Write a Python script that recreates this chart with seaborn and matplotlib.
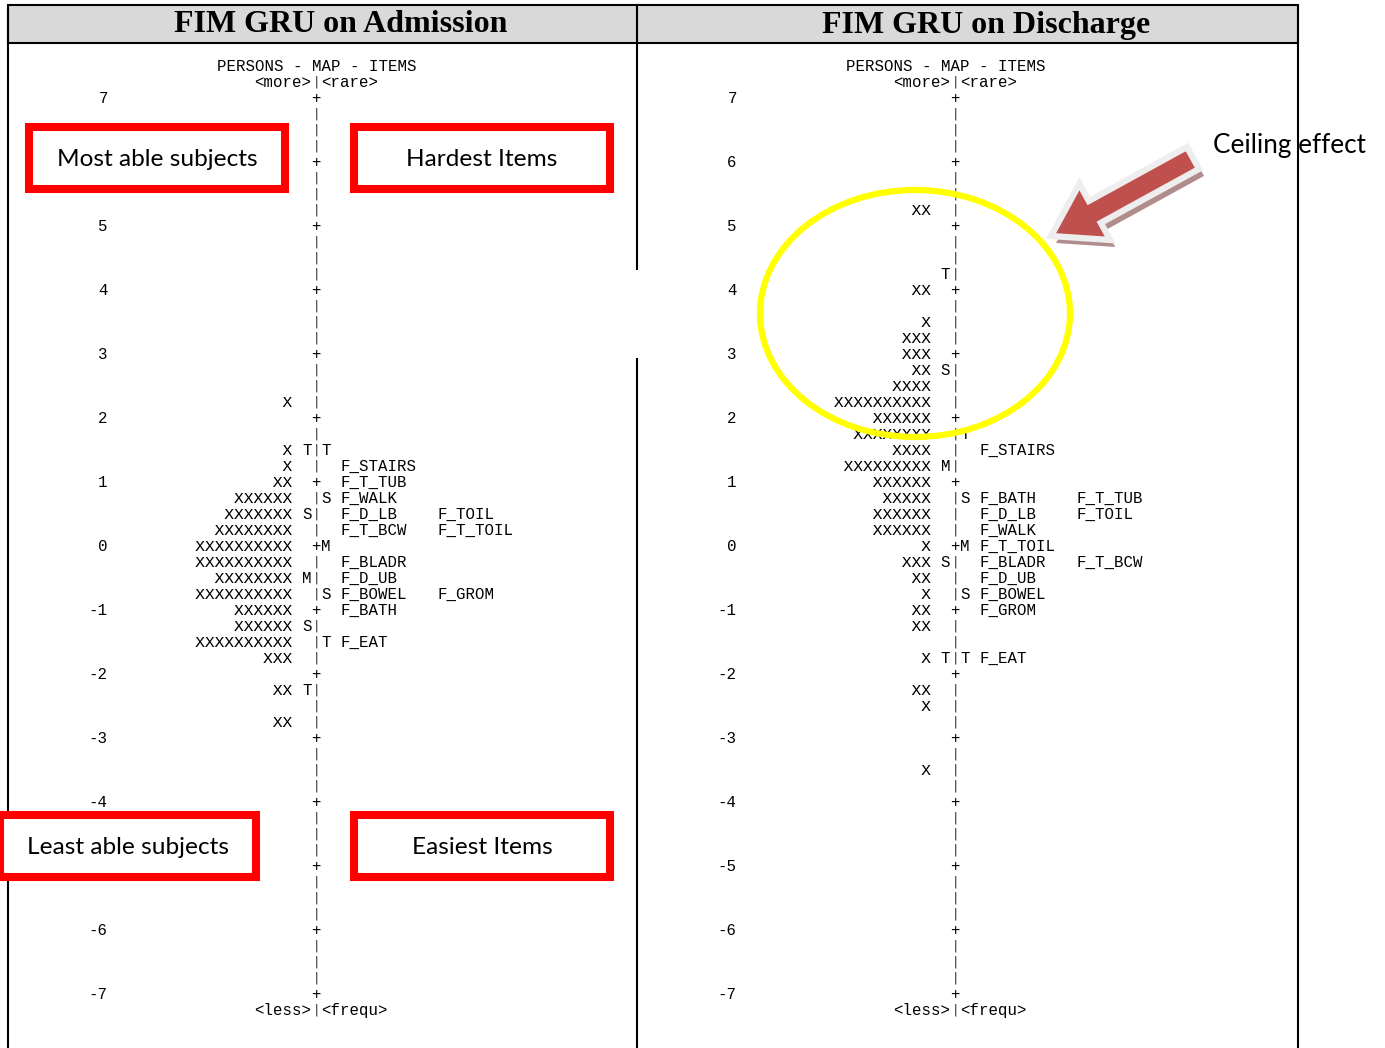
import numpy as np
import pandas as pd
import matplotlib
matplotlib.use("Agg")
import matplotlib.pyplot as plt
import matplotlib.patches as mpatches
from matplotlib.textpath import TextPath
from matplotlib.font_manager import FontProperties
from matplotlib.path import Path
import seaborn as sns

# ------------------------------------------------------------------ data
panel_titles = ["FIM GRU on Admission", "FIM GRU on Discharge"]
scale_ticks = [7, 6, 5, 4, 3, 2, 1, 0, -1, -2, -3, -4, -5, -6, -7]
# scale labels hidden behind the annotation boxes in the admission panel
adm_hidden_ticks = [6, -5]
dis_hidden_ticks = []

# Admission
adm_person_measure = [2.25, 1.5, 1.25, 1.0, 0.75, 0.5, 0.25, 0.0, -0.25, -0.5,
                      -0.75, -1.0, -1.25, -1.5, -1.75, -2.25, -2.75]
adm_person_count = [1, 1, 1, 2, 6, 7, 8, 10, 10, 8, 10, 6, 6, 10, 3, 2, 2]
adm_item_names = ["F_STAIRS", "F_T_TUB", "F_WALK", "F_D_LB", "F_TOIL", "F_T_BCW",
                  "F_T_TOIL", "F_BLADR", "F_D_UB", "F_BOWEL", "F_GROM", "F_BATH", "F_EAT"]
adm_item_measure = [1.25, 1.0, 0.75, 0.5, 0.5, 0.25, 0.25, -0.25, -0.5, -0.75, -0.75, -1.0, -1.5]
adm_person_marks = ["T", "S", "M", "S", "T"]
adm_person_mark_measure = [1.5, 0.5, -0.5, -1.25, -2.25]
adm_item_marks = ["T", "S", "M", "S", "T"]
adm_item_mark_measure = [1.5, 0.75, 0.0, -0.75, -1.5]

# Discharge
dis_person_measure = [5.25, 4.0, 3.5, 3.25, 3.0, 2.75, 2.5, 2.25, 2.0, 1.75, 1.5, 1.25, 1.0,
                      0.75, 0.5, 0.25, 0.0, -0.25, -0.5, -0.75, -1.0, -1.25, -1.75, -2.25,
                      -2.5, -3.5]
dis_person_count = [2, 2, 1, 3, 3, 2, 4, 10, 6, 8, 4, 9, 6, 5, 6, 6, 1, 3, 2, 1, 2, 2, 1, 2, 1, 1]
dis_item_names = ["F_STAIRS", "F_BATH", "F_T_TUB", "F_D_LB", "F_TOIL", "F_WALK", "F_T_TOIL",
                  "F_BLADR", "F_T_BCW", "F_D_UB", "F_BOWEL", "F_GROM", "F_EAT"]
dis_item_measure = [1.5, 0.75, 0.75, 0.5, 0.5, 0.25, 0.0, -0.25, -0.25, -0.5, -0.75, -1.0, -1.75]
dis_person_marks = ["T", "S", "M", "S", "T"]
dis_person_mark_measure = [4.25, 2.75, 1.25, -0.25, -1.75]
dis_item_marks = ["T", "S", "M", "S", "T"]
dis_item_mark_measure = [1.75, 0.75, 0.0, -0.75, -1.75]

# annotation texts
box_texts = ["Most able subjects", "Hardest Items", "Least able subjects", "Easiest Items"]
callout_text = "Ceiling effect"

# ------------------------------------------------------------------ style
sns.set_theme(style="white")
W, H, DPI = 1385, 1048, 100
fig = plt.figure(figsize=(W / DPI, H / DPI), dpi=DPI)
fig.patch.set_facecolor("white")

MONO_SIZE = 11.3
BAR_SIZE = 9.0
mono = FontProperties(family="Liberation Mono", size=MONO_SIZE)
mono_bar = FontProperties(family="DejaVu Sans Mono", size=BAR_SIZE)
CW = 9.7          # px per character cell
PX_PER_UNIT = 64  # px per logit
em_px = MONO_SIZE * DPI / 72.0
DY = (0.66 * em_px / 2.0) / PX_PER_UNIT
bar_em_px = BAR_SIZE * DPI / 72.0
DY_BAR = (0.262 * bar_em_px) / PX_PER_UNIT

# X glyph as marker path
tp = TextPath((0, 0), "X", size=1, prop=FontProperties(family="DejaVu Sans Mono"))
v = tp.vertices.copy()
mn, mx = v.min(axis=0), v.max(axis=0)
v = (v - (mn + mx) / 2.0) * np.array([1.15, 1.0])
x_marker = Path(v, tp.codes)


def put(ax, x, y, s, ha):
    ax.text(x, y - DY, s, ha=ha, va="baseline", fontproperties=mono, color="black")


def put_bar(ax, x, y):
    ax.text(x, y - DY_BAR, "|", ha="center", va="baseline", fontproperties=mono_bar,
            color="#222222")


def draw_panel(left_px, right_px, x0_px, axis_cell, pm, pc, inames, imeas,
               pmarks, pmark_m, imarks, imark_m, hidden):
    ax = fig.add_axes([left_px / W, 0, (right_px - left_px) / W, (H - 43) / H])
    # persons as X glyphs, one per person cell
    rows = []
    for m, c in zip(pm, pc):
        for j in range(c):
            rows.append({"cell": axis_cell - 2.5 - j, "measure": m})
    df = pd.DataFrame(rows)
    sns.scatterplot(data=df, x="cell", y="measure", marker=x_marker, s=52,
                    color="black", edgecolor="none", linewidth=0, legend=False, ax=ax)
    # vertical scale made of | and +
    for val in np.arange(7, -7.001, -0.25):
        if abs(val - round(val)) < 1e-9:
            put(ax, axis_cell + 0.5, val, "+", "center")
        else:
            put_bar(ax, axis_cell + 0.5, val)
    for t in scale_ticks:
        if t not in hidden:
            put(ax, 4, t, str(t), "right")
    # header / footer
    put(ax, 25.5, 7.5, "PERSONS - MAP - ITEMS", "center")
    put(ax, axis_cell, 7.25, "<more>", "right")
    put_bar(ax, axis_cell + 0.5, 7.25)
    put(ax, axis_cell + 1, 7.25, "<rare>", "left")
    put(ax, axis_cell, -7.25, "<less>", "right")
    put_bar(ax, axis_cell + 0.5, -7.25)
    put(ax, axis_cell + 1, -7.25, "<frequ>", "left")
    # S / M / T markers
    for mk, m in zip(pmarks, pmark_m):
        put(ax, axis_cell - 0.5, m, mk, "center")
    for mk, m in zip(imarks, imark_m):
        put(ax, axis_cell + 1.5, m, mk, "center")
    # items
    used = {}
    for name, m in zip(inames, imeas):
        col = used.get(m, 0)
        used[m] = col + 1
        put(ax, axis_cell + 3 + 10 * col, m, name, "left")
    ax.set_xlim((left_px - x0_px) / CW, (right_px - x0_px) / CW)
    ax.set_ylim(7 - (H - 98) / PX_PER_UNIT, 7 + (98 - 43) / PX_PER_UNIT)
    ax.set_axis_off()
    return ax


draw_panel(8, 637, 69, 25, adm_person_measure, adm_person_count, adm_item_names,
           adm_item_measure, adm_person_marks, adm_person_mark_measure,
           adm_item_marks, adm_item_mark_measure, adm_hidden_ticks)
draw_panel(637, 1298, 698, 26, dis_person_measure, dis_person_count, dis_item_names,
           dis_item_measure, dis_person_marks, dis_person_mark_measure,
           dis_item_marks, dis_item_mark_measure, dis_hidden_ticks)

# ------------------------------------------------------------------ overlay (frames, annotations)
ov = fig.add_axes([0, 0, 1, 1], zorder=10)
ov.set_xlim(0, W)
ov.set_ylim(H, 0)
ov.set_axis_off()
ov.patch.set_alpha(0)

# header band
ov.add_patch(mpatches.Rectangle((8, 5), 1290, 38, facecolor="#d9d9d9",
                                edgecolor="black", lw=1.5, zorder=1))
ov.text(341, 25, panel_titles[0], ha="center", va="center", family="Liberation Serif",
        weight="bold", size=23, color="black", zorder=2)
ov.text(986, 25, panel_titles[1], ha="center", va="center", family="Liberation Serif",
        weight="bold", size=23, color="black", zorder=2)

# callout text (under the frame line)
ov.text(1213, 146, callout_text, ha="left", va="center", family="Lato", size=18.8,
        color="black", zorder=1)

# frame lines
for xs, ys in [([8, 8], [5, H]), ([637, 637], [5, 270]), ([637, 637], [358, H]),
               ([1298, 1298], [5, H])]:
    ov.plot(xs, ys, color="black", lw=1.5, solid_capstyle="butt", zorder=3)

# red boxes
boxes = [(29, 127, 256, 62), (354, 127, 256, 62), (0, 815, 256, 62), (354, 815, 256, 62)]
centers = [(157, 159), (482, 159), (128, 847), (482, 847)]
for (bx, by, bw, bh), (cx, cy), txt in zip(boxes, centers, box_texts):
    ov.add_patch(mpatches.Rectangle((bx, by), bw, bh, facecolor="white", edgecolor="#ff0000",
                                    lw=5.8, joinstyle="miter", zorder=4))
    ov.text(cx, cy, txt, ha="center", va="center", family="Lato", size=17.6,
            color="black", zorder=5)

# yellow ellipse
ov.add_patch(mpatches.Ellipse((915, 313.5), 310, 247, fill=False, edgecolor="#ffff00",
                              lw=4.5, zorder=6))

# arrow with shadow
ov.add_patch(mpatches.FancyArrow(1198, 165, -142, 78, width=25, head_width=64,
                                 head_length=50, length_includes_head=True,
                                 facecolor="#b08c8c", edgecolor="none", zorder=6))
ov.add_patch(mpatches.FancyArrow(1193, 158, -142, 78, width=25, head_width=64,
                                 head_length=50, length_includes_head=True,
                                 facecolor="#c0504d", edgecolor="#eeeeee", lw=4.5,
                                 joinstyle="miter", zorder=7))

fig.savefig("out.png", dpi=DPI, facecolor="white")
